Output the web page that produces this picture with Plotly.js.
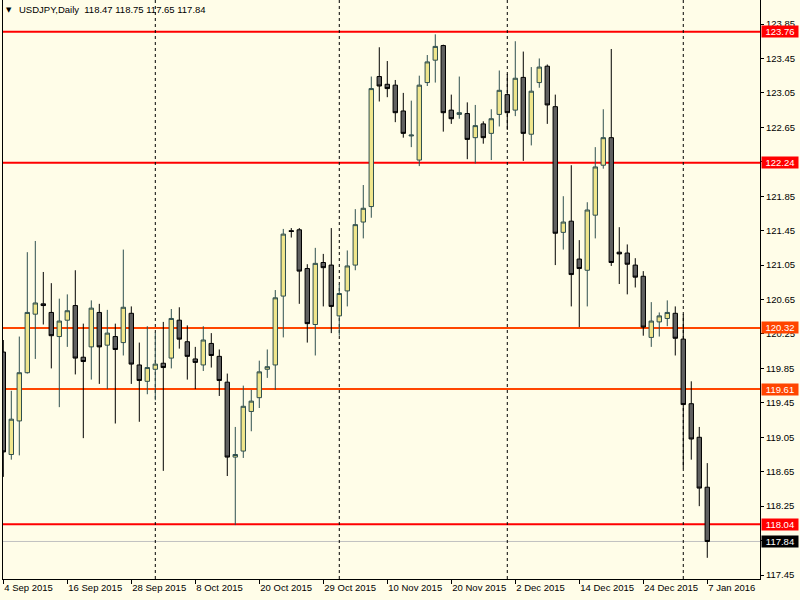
<!DOCTYPE html>
<html>
<head>
<meta charset="utf-8">
<script src="https://cdn.plot.ly/plotly-3.0.1.min.js"></script>
<style>html,body{margin:0;padding:0;background:#fffde8;}#chart{width:800px;height:600px;}</style>
</head>
<body>
<div id="chart"></div>
<script>
// ---- Data (USDJPY, Daily) : bar index 0 = 4 Sep 2015 ... 88 = 7 Jan 2016
const openP = [120.04,118.85,119.24,119.80,120.48,120.60,120.50,120.22,120.41,120.58,
  119.98,120.10,120.50,120.12,120.22,120.15,120.49,119.89,119.70,119.84,
  119.91,119.97,120.41,120.16,119.96,119.89,120.14,119.99,119.69,118.82,
  118.89,119.35,119.51,119.84,119.89,120.69,121.45,121.46,121.01,120.36,
  121.08,121.05,120.46,120.75,121.05,121.55,121.73,123.24,123.15,123.14,
  122.84,122.55,122.27,123.17,123.43,123.60,122.85,122.80,122.81,122.53,
  122.69,122.58,122.80,123.03,122.85,123.23,122.57,123.17,123.36,122.89,
  121.43,121.56,121.12,120.99,121.63,122.21,122.53,121.20,121.19,121.05,
  120.92,120.21,120.39,120.43,120.49,120.19,119.44,119.05,118.47];
const highP = [120.18,119.59,120.22,121.20,121.33,120.97,120.84,120.66,120.71,120.99,
  120.37,120.64,120.60,120.53,120.37,121.23,120.57,120.15,120.34,120.27,
  120.39,120.54,120.56,120.35,120.10,120.34,120.26,120.07,119.79,119.17,
  119.65,119.60,119.94,120.07,120.76,121.47,121.48,121.48,121.06,121.25,
  121.18,121.48,120.83,121.22,121.70,121.98,123.24,123.58,123.42,123.20,
  123.05,122.96,123.25,123.49,123.73,123.61,123.03,123.24,122.94,122.91,
  122.72,122.86,123.31,123.27,123.65,123.53,123.35,123.45,123.38,123.03,
  121.85,122.21,121.34,121.78,122.42,122.86,123.56,121.49,121.29,121.13,
  120.98,120.62,120.50,120.64,120.57,120.48,119.70,119.17,118.75];
const lowP = [118.59,118.79,118.84,119.79,119.96,120.36,119.85,119.40,120.10,119.78,
  119.04,119.72,119.67,119.61,119.21,120.00,119.67,119.23,119.55,119.48,
  118.66,119.85,120.08,119.72,119.61,119.82,119.86,119.53,118.60,118.03,
  118.81,119.12,119.39,119.74,119.60,120.21,121.37,120.60,120.15,120.00,
  120.57,120.26,120.23,120.57,120.99,121.36,121.60,122.95,123.00,122.71,
  122.53,122.42,122.20,123.13,123.17,122.60,122.69,122.75,122.28,122.23,
  122.46,122.27,122.66,122.62,122.78,122.26,122.44,123.11,122.69,121.05,
  121.23,120.57,120.33,120.57,121.36,122.17,121.04,120.83,120.71,120.79,
  120.23,120.10,120.22,120.34,120.00,118.69,118.79,118.25,117.65];
const closeP = [118.88,119.26,119.80,120.50,120.61,120.58,120.23,120.40,120.52,119.97,
  119.93,120.55,120.10,120.26,120.07,120.56,119.90,119.71,119.86,119.90,
  119.86,120.43,120.19,119.99,119.92,120.18,120.00,119.71,118.82,118.85,
  119.41,119.47,119.81,119.87,120.67,121.41,121.44,120.98,120.37,121.07,
  121.02,120.57,120.72,121.04,121.52,121.71,123.10,123.13,123.10,122.82,
  122.58,122.56,123.14,123.41,123.59,122.82,122.75,122.82,122.51,122.67,
  122.53,122.75,123.08,122.82,123.22,122.58,123.07,123.35,122.91,121.42,
  121.55,120.94,121.01,121.69,122.19,122.53,121.08,121.18,121.06,120.91,
  120.33,120.40,120.46,120.50,120.20,119.43,119.03,118.46,117.84];

const tickIdx    = [0, 8, 16, 24, 32, 40, 48, 56, 64, 72, 80, 88];
const tickLabels = ['4 Sep 2015','16 Sep 2015','28 Sep 2015','8 Oct 2015','20 Oct 2015','29 Oct 2015',
                    '10 Nov 2015','20 Nov 2015','2 Dec 2015','14 Dec 2015','24 Dec 2015','7 Jan 2016'];
const yTicks = [117.45,117.85,118.25,118.65,119.05,119.45,119.85,120.25,120.65,121.05,121.45,121.85,122.25,122.65,123.05,123.45,123.85];
const yTickLabels = ['117.45','117.85','118.25','118.65','119.05','119.45','119.85','120.25','120.65','121.05','121.45','121.85','122.25','122.65','123.05','123.45','123.85'];
const periodSeparators = [19, 42, 63, 85];
const levels = [123.76, 122.24, 120.32, 119.61, 118.04];
const levelColors = ['#ff0000','#ff0000','#ff4500','#ff4500','#ff0000'];
const symbol = 'USDJPY,Daily';

const n = openP.length;
const xIdx = openP.map((_, i) => i);
const lastBid = closeP[n-1];

const trace = {
  type: 'candlestick',
  x: xIdx, open: openP, high: highP, low: lowP, close: closeP,
  increasing: {line: {color: '#2f4f4f', width: 1}, fillcolor: '#f0e68c'},
  decreasing: {line: {color: '#000000', width: 1}, fillcolor: '#606060'},
  whiskerwidth: 0,
  hoverinfo: 'skip'
};

const font = 'Liberation Sans, Arial, sans-serif';
const shapes = [];
levels.forEach((lv, k) => shapes.push({type:'line', xref:'paper', x0:0, x1:1, yref:'y', y0:lv, y1:lv,
  line:{color: levelColors[k], width:2}, layer:'below'}));
shapes.push({type:'line', xref:'paper', x0:0, x1:1, yref:'y', y0:lastBid, y1:lastBid,
  line:{color:'#c0c0c0', width:1}, layer:'below'});
periodSeparators.forEach(ix => shapes.push({type:'line', xref:'x', x0:ix, x1:ix, yref:'paper', y0:0, y1:1,
  line:{color:'#000', width:1, dash:'3px,3px'}, layer:'below'}));

const annotations = [];
levels.forEach((lv, k) => annotations.push({xref:'paper', x:1, xanchor:'left', xshift:1,
  yref:'y', y:lv, yanchor:'middle', text: lv.toFixed(2), showarrow:false,
  bgcolor: levelColors[k], font:{family:font, size:9.5, color:'#ffffff'}, width:36, height:11,
  borderpad:0, align:'center'}));
annotations.push({xref:'paper', x:1, xanchor:'left', xshift:1, yref:'y', y:lastBid, yanchor:'middle',
  text: lastBid.toFixed(2), showarrow:false, bgcolor:'#000000', font:{family:font, size:9.5, color:'#ffffff'},
  width:36, height:11, borderpad:0, align:'center'});
annotations.push({xref:'paper', x:0, xanchor:'left', xshift:1, yref:'paper', y:1, yanchor:'top', yshift:-4,
  text:'▼', showarrow:false, font:{family:'DejaVu Sans', size:7, color:'#000'}});
annotations.push({xref:'paper', x:0, xanchor:'left', xshift:14, yref:'paper', y:1, yanchor:'top', yshift:-2,
  text: symbol + '\u00a0\u00a0' + [openP[n-1], highP[n-1], lowP[n-1], closeP[n-1]].map(v => v.toFixed(2)).join(' '),
  showarrow:false, font:{family:font, size:9.5, color:'#000'}});

const layout = {
  width: 800, height: 600,
  margin: {l:3, r:40, t:0, b:21, pad:0},
  paper_bgcolor: '#fffde8', plot_bgcolor: '#fffde8',
  showlegend: false,
  boxgap: 0.45, boxgroupgap: 0,
  xaxis: {range:[-0.0375, 94.59], showgrid:false, zeroline:false, showline:true, mirror:true,
    linecolor:'#000', linewidth:1, ticks:'outside', ticklen:4, tickcolor:'#000',
    tickvals: tickIdx, ticktext: tickLabels, ticklabelposition:'outside right',
    tickfont:{family:font, size:9.5, color:'#000'}, rangeslider:{visible:false}, fixedrange:true},
  yaxis: {side:'right', range:[117.404, 124.129], showgrid:false, zeroline:false, showline:true, mirror:true,
    linecolor:'#000', linewidth:1, ticks:'outside', ticklen:3, tickcolor:'#000',
    tickvals: yTicks, ticktext: yTickLabels, tickfont:{family:font, size:9.5, color:'#000'}, fixedrange:true},
  shapes: shapes,
  annotations: annotations
};

Plotly.newPlot('chart', [trace], layout, {displayModeBar:false, staticPlot:true});
</script>
</body>
</html>
